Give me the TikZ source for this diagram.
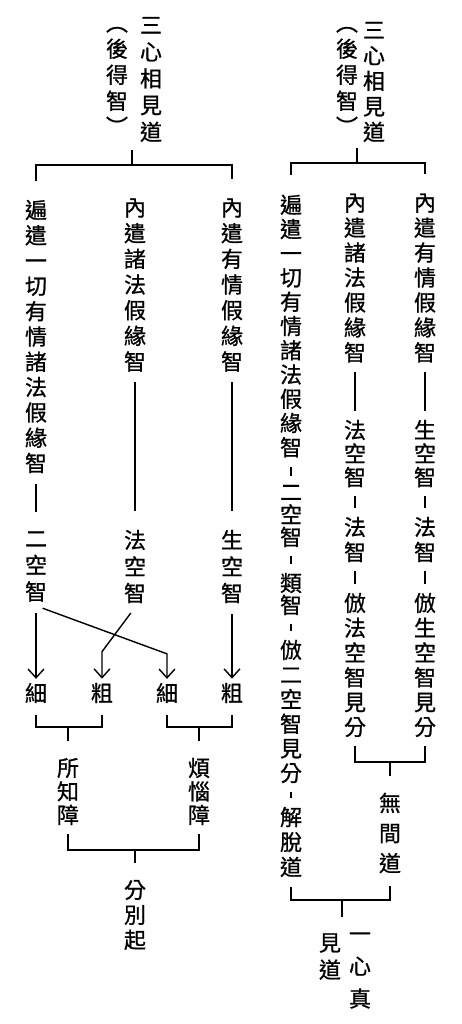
\documentclass[tikz,border=0pt]{standalone}
\usepackage{fontspec}
\newfontfamily\cjk[FakeBold=0.9]{Noto Sans CJK TC}
\usetikzlibrary{arrows.meta}

\begin{document}
\begin{tikzpicture}[x=0.02cm,y=-0.02cm,line width=0.8pt,
  vt/.style={align=center,inner sep=2pt,font=\cjk\fontsize{12.5}{#1}\selectfont},
  vt/.default=14.4pt,
  tie/.style={shorten <=0.1cm,shorten >=0.1cm},
  longtie/.style={shorten <=0.13cm,shorten >=0.3cm},
  arr/.style={-{Straight Barb[length=5pt,width=9pt]},shorten <=0.14cm},
  stem/.style={shorten >=0.26cm}]
\useasboundingbox (0,0) rectangle (462,1024);

% left tree
\node[vt=15.2pt] (ltitle) at (151,79.5) {三\\心\\相\\見\\道};
\node[vt=14.8pt] (lnote) at (117,81) {︵\\後\\得\\智\\︶};
\coordinate (lstem) at (132,150);
\coordinate (lbar) at (132,165);
\node[vt] (la) at (36,336.5) {遍\\遣\\一\\切\\有\\情\\諸\\法\\假\\緣\\智};
\node[vt=14.6pt] (lb) at (135,285) {內\\遣\\諸\\法\\假\\緣\\智};
\node[vt=14.6pt] (lc) at (232,285) {內\\遣\\有\\情\\假\\緣\\智};
\draw (lstem) -- (lbar);
\draw[shorten <=0.3cm,shorten >=0.3cm] (la.north) |- (lbar) -| (lc.north);

\node[vt=15.1pt] (la2) at (36,566.5) {二\\空\\智};
\node[vt=15.1pt] (lb2) at (135,566.5) {法\\空\\智};
\node[vt=15.1pt] (lc2) at (232,566.5) {生\\空\\智};
\draw[longtie] (la) -- (la2);
\draw[longtie] (lb) -- (lb2);
\draw[longtie] (lc) -- (lc2);

\node[vt] (ld1) at (36,693) {細};
\node[vt] (ld2) at (102,693) {粗};
\node[vt] (ld3) at (167,693) {細};
\node[vt] (ld4) at (232,693) {粗};
\draw[arr] (la2.south) -- (ld1);
\draw[arr] (la2.south) -- ([yshift=0.5cm]ld3.north) -- (ld3);
\draw[arr] (lb2.south) -- ([yshift=0.54cm]ld2.north) -- (ld2);
\draw[arr] (lc2) -- (ld4);

\coordinate (lk1) at (68,727);
\coordinate (lk2) at (199,727);
\draw[shorten <=0.15cm,shorten >=0.15cm] (ld1.south) |- (lk1) -| (ld2.south);
\draw[shorten <=0.15cm,shorten >=0.15cm] (ld3.south) |- (lk2) -| (ld4.south);
\node[vt=13.4pt] (le1) at (68,791.5) {所\\知\\障};
\node[vt=13.4pt] (le2) at (199,791.5) {煩\\惱\\障};
\draw[stem] (lk1) -- (le1);
\draw[stem] (lk2) -- (le2);

\coordinate (lk3) at (135,850);
\draw[shorten <=0.1cm,shorten >=0.1cm] (le1.south) |- (lk3) -| (le2.south);
\node[vt=14.2pt] (lf) at (135,915) {分\\別\\起};
\draw[stem] (lk3) -- (lf);

% right tree
\node[vt=14.5pt] (rtitle) at (374,82) {三\\心\\相\\見\\道};
\node[vt=14.8pt] (rnote) at (347,81) {︵\\後\\得\\智\\︶};
\coordinate (rstem) at (357,148);
\coordinate (rbar) at (357,163);
\node[vt=13.8pt] (ra) at (291,326) {遍\\遣\\一\\切\\有\\情\\諸\\法\\假\\緣\\智};
\node[vt=14.2pt] (rb) at (355,278) {內\\遣\\諸\\法\\假\\緣\\智};
\node[vt=14.2pt] (rc) at (425,278) {內\\遣\\有\\情\\假\\緣\\智};
\draw (rstem) -- (rbar);
\draw[shorten <=0.3cm,shorten >=0.3cm] (ra.north) |- (rbar) -| (rc.north);

\node[vt=12.8pt] (ra2) at (291,516) {二\\空\\智};
\node[vt=12.5pt] (ra3) at (291,594) {類\\智};
\node[vt=14pt] (ra4) at (291,711.5) {倣\\二\\空\\智\\見\\分};
\node[vt=14.2pt] (ra5) at (291,842) {解\\脫\\道};
\draw[tie] (ra) -- (ra2);
\draw[tie] (ra2) -- (ra3);
\draw[tie] (ra3) -- (ra4);
\draw[tie] (ra4) -- (ra5);

\node[vt=13.4pt] (rb2) at (355,453.5) {法\\空\\智};
\node[vt=14.2pt] (rb3) at (355,539.5) {法\\智};
\node[vt=14.1pt] (rb4) at (355,665) {倣\\法\\空\\智\\見\\分};
\draw[tie] (rb) -- (rb2);
\draw[tie] (rb2) -- (rb3);
\draw[tie] (rb3) -- (rb4);

\node[vt=13.4pt] (rc2) at (425,453.5) {生\\空\\智};
\node[vt=14.2pt] (rc3) at (425,539.5) {法\\智};
\node[vt=14.1pt] (rc4) at (425,665) {倣\\生\\空\\智\\見\\分};
\draw[tie] (rc) -- (rc2);
\draw[tie] (rc2) -- (rc3);
\draw[tie] (rc3) -- (rc4);

\coordinate (rk1) at (390,762);
\draw[shorten <=0.1cm,shorten >=0.1cm] (rb4.south) |- (rk1) -| (rc4.south);
\node[vt=17.1pt] (rd) at (390,833) {無\\間\\道};
\draw[stem] (rk1) -- (rd);

\coordinate (rk2) at (342,900);
\coordinate (rtip) at (342,917);
\draw[shorten <=0.12cm,shorten >=0.18cm] (ra5.south) |- (rk2) -| (rd.south);
\draw (rk2) -- (rtip);
\node[vt=18.5pt] (rf1) at (360,970.5) {一\\心\\真};
\node[vt=15.4pt] (rf2) at (330,956.5) {見\\道};

\end{tikzpicture}
\end{document}
